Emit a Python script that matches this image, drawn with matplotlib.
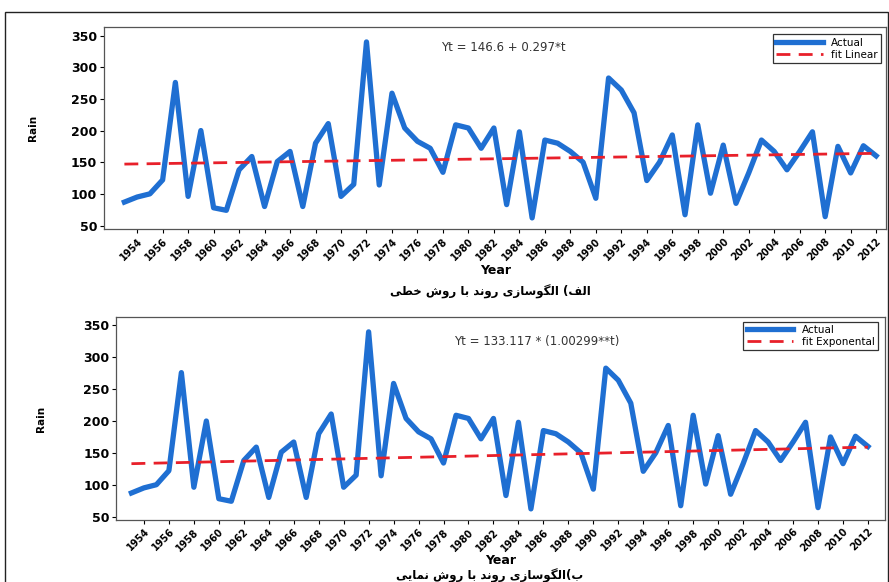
import numpy as np
import matplotlib
matplotlib.use("Agg")
import matplotlib.pyplot as plt
from matplotlib.patches import Rectangle

# annual rain, 1953-2012
years = list(range(1953, 2013))
rain = [87, 95, 100, 122, 276, 96, 200, 78, 74, 138,
        159, 80, 151, 167, 80, 180, 211, 96, 115, 340,
        114, 259, 204, 183, 172, 134, 209, 204, 172, 204,
        83, 198, 62, 185, 180, 167, 150, 93, 283, 264,
        228, 121, 150, 193, 67, 209, 101, 177, 85, 133,
        185, 167, 138, 167, 198, 64, 175, 133, 176, 160]

# fitted trend lines, values read at first and last year
fit_years = [1953, 2012]
fit_linear = [147, 164]
fit_expo = [133, 159]

xticks = list(range(1954, 2013, 2))
yticks = [50, 100, 150, 200, 250, 300, 350]

eq_linear = "Yt = 146.6 + 0.297*t"
eq_expo = "Yt = 133.117 * (1.00299**t)"
cap_linear = "الف) الگوسازی روند با روش خطی"
cap_expo = "ب)الگوسازی روند با روش نمایی"

# small persian shaper (presentation forms, visual order)
forms = {
    'ا': ('\uFE8D', '\uFE8E', None, None),
    'ل': ('\uFEDD', '\uFEDE', '\uFEDF', '\uFEE0'),
    'ف': ('\uFED1', '\uFED2', '\uFED3', '\uFED4'),
    'گ': ('\uFB92', '\uFB93', '\uFB94', '\uFB95'),
    'و': ('\uFEED', '\uFEEE', None, None),
    'س': ('\uFEB1', '\uFEB2', '\uFEB3', '\uFEB4'),
    'ز': ('\uFEAF', '\uFEB0', None, None),
    'ی': ('\uFBFC', '\uFBFD', '\uFBFE', '\uFBFF'),
    'ر': ('\uFEAD', '\uFEAE', None, None),
    'ن': ('\uFEE5', '\uFEE6', '\uFEE7', '\uFEE8'),
    'د': ('\uFEA9', '\uFEAA', None, None),
    'ب': ('\uFE8F', '\uFE90', '\uFE91', '\uFE92'),
    'ش': ('\uFEB5', '\uFEB6', '\uFEB7', '\uFEB8'),
    'خ': ('\uFEA5', '\uFEA6', '\uFEA7', '\uFEA8'),
    'ط': ('\uFEC1', '\uFEC2', '\uFEC3', '\uFEC4'),
    'م': ('\uFEE1', '\uFEE2', '\uFEE3', '\uFEE4'),
}


def shape(s):
    out = []
    for i, ch in enumerate(s):
        if ch not in forms:
            out.append(ch)
            continue
        iso, fin, ini, med = forms[ch]
        prev = s[i - 1] if i > 0 else ''
        nxt = s[i + 1] if i + 1 < len(s) else ''
        jp = prev in forms and forms[prev][2] is not None
        jn = nxt in forms and ini is not None
        if jp and jn:
            out.append(med)
        elif jp:
            out.append(fin)
        elif jn:
            out.append(ini)
        else:
            out.append(iso)
    vis = ''.join(out)[::-1]
    return vis.translate(str.maketrans('()', ')('))


blue = '#1f6fd2'
red = '#e8202a'

fig = plt.figure(figsize=(8.89, 5.82), dpi=100)
fig.patches.append(Rectangle((0.006, -0.01), 0.993, 0.989, transform=fig.transFigure,
                             fill=False, edgecolor='#222222', linewidth=1.0))

ax1 = fig.add_axes([0.117, 0.606, 0.880, 0.347])
ax2 = fig.add_axes([0.131, 0.107, 0.865, 0.348])

panels = [
    (ax1, fit_linear, 'fit Linear', eq_linear, (0.51, 0.902), (0.993, 0.965), (1951.4, 2012.8), 44),
    (ax2, fit_expo, 'fit Exponental', eq_expo, (0.547, 0.878), (0.990, 0.978), (1951.8, 2013.4), 45),
]

for ax, fit, fitlab, eq, eqpos, legpos, xl, ybot in panels:
    ax.plot(years, rain, color=blue, linewidth=3.8, label='Actual')
    ax.plot(fit_years, fit, color=red, linewidth=2.0, dashes=(5, 3), label=fitlab)
    ax.set_xlim(*xl)
    ax.set_ylim(ybot, 363)
    ax.set_xticks(xticks)
    ax.set_xticklabels([str(y) for y in xticks], rotation=45, ha='right',
                       rotation_mode='anchor', fontsize=7, fontweight='bold')
    ax.set_yticks(yticks)
    ax.set_yticklabels([str(v) for v in yticks], fontsize=9, fontweight='bold')
    ax.tick_params(length=3, width=0.8, pad=2)
    for sp in ax.spines.values():
        sp.set_color('#555555')
        sp.set_linewidth(0.9)
    ax.set_xlabel('Year', fontsize=9, fontweight='bold', labelpad=1)
    ax.set_ylabel('Rain', fontsize=7.5, fontweight='bold')
    ax.text(eqpos[0], eqpos[1], eq, transform=ax.transAxes, ha='center', va='center',
            fontsize=8.5, color='#333333')
    leg = ax.legend(loc='upper right', bbox_to_anchor=legpos, borderaxespad=0,
                    fontsize=7.5, handlelength=4.5, fancybox=False, framealpha=1,
                    edgecolor='#333333', borderpad=0.3, labelspacing=0.2)
    leg.get_frame().set_linewidth(0.9)

ax1.yaxis.set_label_coords(-0.085, 0.5)
ax2.yaxis.set_label_coords(-0.092, 0.5)

fig.text(490 / 889, 1 - 292 / 582, shape(cap_linear), ha='center', va='center',
         fontsize=8.5, fontweight='bold', family=['DejaVu Sans'])
fig.text(490 / 889, 1 - 576 / 582, shape(cap_expo), ha='center', va='center',
         fontsize=8.5, fontweight='bold', family=['DejaVu Sans'])

fig.savefig('out.png', dpi=100)
